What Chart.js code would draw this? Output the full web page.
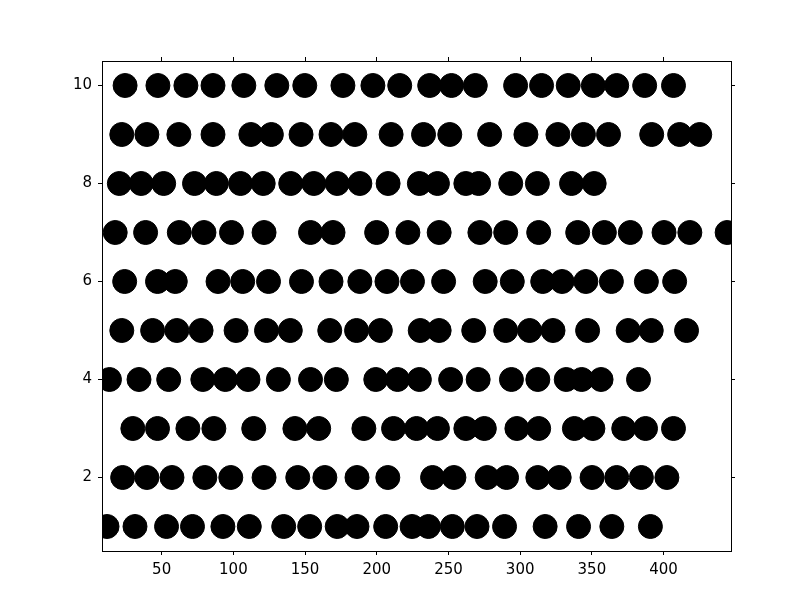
<!DOCTYPE html>
<html>
<head>
<meta charset="utf-8">
<script src="https://cdn.jsdelivr.net/npm/chart.js@4/dist/chart.umd.min.js"></script>
<style>
html,body{margin:0;padding:0;background:#fff;}
canvas{display:block;}
</style>
</head>
<body>
<canvas id="c" width="812" height="612"></canvas>
<script>
// Row positions (y) and x values
const rowY = [1,2,3,4,5,6,7,8,9,10];
const row1 = [11.9,31.4,53.4,71.5,92.7,111.1,135.1,153.2,172.4,186.2,206.2,224.6,236,252.7,269.9,289.1,317.4,340.7,363.9,390.8];
const row2 = [22.8,39.7,57.2,80.1,98.2,121.4,144.9,163.8,186.2,207.7,238.9,253.8,277,290.5,312.3,327.2,350.1,367.3,384.5,402.3];
const row3 = [29.9,47.1,68.3,86.4,114.2,142.9,159.5,191,211.7,227.7,242.3,262.1,275,297.7,312.9,337.8,350.7,372.2,387.4,406.9];
const row4 = [13.6,34.2,54.9,78.7,94.4,110.2,131.4,153.8,171.8,199.3,214.5,229.7,251.5,270.7,293.9,312.3,332.1,342.9,356.4,382.5];
const row5 = [22.2,43.7,60.6,77.5,101.9,123.1,139.7,167.2,185.9,202.5,230.3,243.5,267.6,289.9,306.6,322.9,347,375.3,391.4,416];
const row6 = [24.2,47.1,59.5,89.3,106.5,124.5,147.5,168.1,188.2,207.1,224.9,246.6,275.6,294.5,315.7,329.2,345.8,363.6,388,407.7];
const row7 = [17.6,38.8,62.3,79.5,98.7,121.4,153.8,169.5,199.9,221.7,243.5,271.9,289.9,312.9,340.1,358.7,376.8,400.3,418.3,444.3];
const row8 = [20.5,35.7,51.4,72.9,88.1,105,120.8,140,156.1,172.4,188.2,207.9,229.7,242.3,262.1,271,293.4,312,335.8,351.6];
const row9 = [22.2,39.7,62,85.8,112.2,126.5,147.2,168.1,184.7,210,232.6,250.9,278.7,304,326.3,344.1,361.6,391.7,411.2,425.2];
const row10 = [24.5,47.4,66.9,85.8,107.3,130.3,149.8,176.4,197.3,216,236.9,252.1,268.7,296.8,314.9,333.5,351,367.3,386.8,406.9];
const rows = [row1,row2,row3,row4,row5,row6,row7,row8,row9,row10];
const xTicks = [50,100,150,200,250,300,350,400];
const yTicks = [2,4,6,8,10];
const xMin = 8.4, xMax = 447;
const yMin = 0.5, yMax = 10.5;

const points = [];
rows.forEach((r, i) => r.forEach(x => points.push({x: x, y: rowY[i]})));

const font = {family: 'DejaVu Sans', size: 15};
function axis(pos, min, max, ticks, showLabels, size) {
  return {
    type: 'linear', position: pos, min: min, max: max,
    afterBuildTicks: s => { s.ticks = ticks.map(v => ({value: v})); },
    afterFit: s => { if (s.isHorizontal()) s.height = size; else s.width = size; },
    grid: {drawOnChartArea: false, drawTicks: true, tickLength: 4, color: '#000', tickColor: '#000', tickWidth: 1},
    border: {display: true, color: '#000', width: 1},
    ticks: {display: showLabels, color: '#000', font: font, padding: 6, maxRotation: 0, autoSkip: false,
            callback: v => String(v)}
  };
}

new Chart(document.getElementById('c'), {
  type: 'scatter',
  data: {
    datasets: [{
      data: points,
      backgroundColor: '#000',
      borderColor: '#000',
      borderWidth: 1,
      pointRadius: 12,
      pointHoverRadius: 12,
      clip: 0
    }]
  },
  options: {
    responsive: false,
    animation: false,
    devicePixelRatio: 1,
    layout: {padding: 0},
    plugins: {legend: {display: false}, tooltip: {enabled: false}},
    scales: {
      x: axis('bottom', xMin, xMax, xTicks, true, 61),
      x2: axis('top', xMin, xMax, xTicks, false, 61),
      y: axis('left', yMin, yMax, yTicks, true, 102),
      y2: axis('right', yMin, yMax, yTicks, false, 81)
    }
  }
});
</script>
</body>
</html>
